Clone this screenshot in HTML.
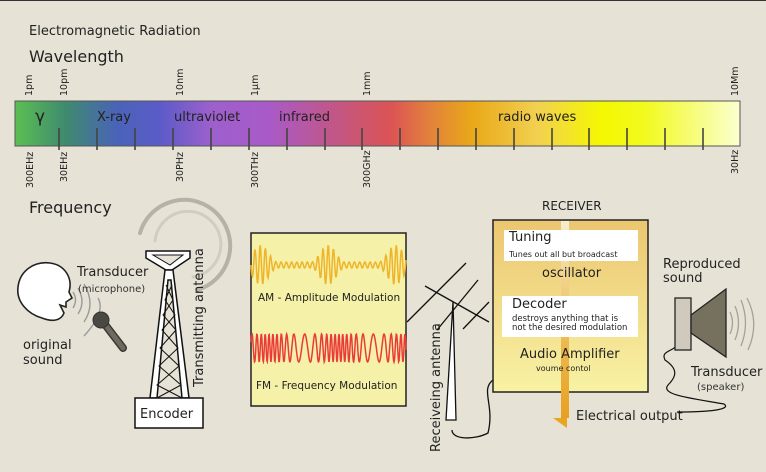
<!DOCTYPE html>
<html><head><meta charset="utf-8"><style>
html,body{margin:0;padding:0;background:#e6e2d6;}
svg{display:block;font-family:"DejaVu Sans","Liberation Sans",sans-serif;}
</style></head><body>
<svg width="766" height="472" viewBox="0 0 766 472" xmlns="http://www.w3.org/2000/svg">
<defs>
<linearGradient id="spec" x1="0" x2="1" y1="0" y2="0">
<stop offset="0" stop-color="#5cbf52"/>
<stop offset="0.07" stop-color="#3f8a6e"/>
<stop offset="0.14" stop-color="#4a63b8"/>
<stop offset="0.2" stop-color="#5b5bc8"/>
<stop offset="0.27" stop-color="#9c60cc"/>
<stop offset="0.35" stop-color="#a95ac8"/>
<stop offset="0.45" stop-color="#c45680"/>
<stop offset="0.52" stop-color="#dc5454"/>
<stop offset="0.57" stop-color="#e2803c"/>
<stop offset="0.63" stop-color="#e9a818"/>
<stop offset="0.72" stop-color="#f2d050"/>
<stop offset="0.81" stop-color="#f4f800"/>
<stop offset="0.87" stop-color="#f2fa20"/>
<stop offset="1" stop-color="#fbffd0"/>
</linearGradient>
<linearGradient id="recv" x1="0" x2="0" y1="0" y2="1">
<stop offset="0" stop-color="#ecc670"/>
<stop offset="1" stop-color="#f8f2a4"/>
</linearGradient>
<linearGradient id="arr" x1="0" x2="0" y1="0" y2="1">
<stop offset="0" stop-color="#f6eed0"/>
<stop offset="0.5" stop-color="#eec060"/>
<stop offset="1" stop-color="#e8a020"/>
</linearGradient>
</defs>
<rect width="766" height="472" fill="#e6e2d6"/>
<rect width="766" height="1" fill="#333"/>
<text x="29" y="35" font-size="13" fill="#222">Electromagnetic Radiation</text>
<text x="29" y="62" font-size="16" fill="#222">Wavelength</text>
<rect x="15" y="101" width="725" height="45" fill="url(#spec)" stroke="#555" stroke-width="1"/>
<g stroke="#444" stroke-width="1.6" id="ticks"></g>
<text x="35" y="122" font-size="17" fill="#222">γ</text>
<text x="97" y="121" font-size="13" fill="#222">X-ray</text>
<text x="174" y="121" font-size="13" fill="#222">ultraviolet</text>
<text x="279" y="121" font-size="13" fill="#222">infrared</text>
<text x="498" y="121" font-size="13" fill="#222">radio waves</text>
<g font-size="9.5" fill="#222">
<text transform="translate(32,96) rotate(-90)">1pm</text>
<text transform="translate(67,96) rotate(-90)">10pm</text>
<text transform="translate(183,96) rotate(-90)">10nm</text>
<text transform="translate(258,96) rotate(-90)">1µm</text>
<text transform="translate(370,96) rotate(-90)">1mm</text>
<text transform="translate(738,96) rotate(-90)">10Mm</text>
<text transform="translate(33,188) rotate(-90)">300EHz</text>
<text transform="translate(67,182) rotate(-90)">30EHz</text>
<text transform="translate(183,182) rotate(-90)">30PHz</text>
<text transform="translate(258,188) rotate(-90)">300THz</text>
<text transform="translate(370,188) rotate(-90)">300GHz</text>
<text transform="translate(738,174) rotate(-90)">30Hz</text>
</g>
<text x="29" y="213" font-size="16" fill="#222">Frequency</text>
<!-- head -->
<path d="M42,318 C28,314 16,302 18,287 C20,270 35,261 50,263 C65,265 73,278 69,292 L72,298 L66,302 L66,307 L60,305 L64,313 C61,321 52,322 42,318 Z" fill="#fff" stroke="#222" stroke-width="1.6"/>
<g fill="none" stroke="#999" stroke-width="1.4">
<path d="M73,308 Q78,300 73,292"/><path d="M78,314 Q86,302 78,288"/><path d="M84,322 Q96,304 84,284"/><path d="M84,336 Q106,312 98,298"/>
</g>
<path d="M100,318 L123,348" stroke="#3a3833" stroke-width="8" stroke-linecap="round"/>
<path d="M100,318 L123,348" stroke="#6e6a60" stroke-width="5" stroke-linecap="round"/>
<circle cx="101" cy="320" r="8" fill="#4a4842" stroke="#333"/>
<text x="77" y="276" font-size="13" fill="#222">Transducer</text>
<text x="78" y="292" font-size="10" fill="#333">(microphone)</text>
<text x="23" y="349" font-size="13" fill="#222">original</text>
<text x="23" y="364" font-size="13" fill="#222">sound</text>
<!-- arcs -->
<path d="M140,233 A46,46 0 1 1 197,290" fill="none" stroke="#b8b2a4" stroke-width="4" stroke-linecap="round"/>
<path d="M155,241 A33,33 0 1 1 193,277" fill="none" stroke="#d2cdc1" stroke-width="3" stroke-linecap="round"/>
<!-- tower -->
<path d="M146,251 L190,251 L190,258 L172,270 L166,270 L146,258 Z" fill="#fff" stroke="#111" stroke-width="1.5"/>
<path d="M153,255 L183,255 L170,265 Z" fill="#e6e2d6" stroke="#111" stroke-width="1"/>
<path d="M165,270 L150,398 L157,398 L168,280 L171,280 L182,398 L189,398 L173,270 Z" fill="#fff" stroke="#111" stroke-width="1.5"/>
<g stroke="#111" stroke-width="1" fill="none">
<path d="M166,285 L173,300 L163,315 L176,330 L160,348 L179,366 L157,385 L182,398"/>
<path d="M172,285 L165,300 L175,315 L162,330 L178,348 L159,366 L181,385 L157,398"/>
</g>
<rect x="135" y="398" width="68" height="30" fill="#fff" stroke="#111" stroke-width="1.5"/>
<text x="140" y="418" font-size="13" fill="#222">Encoder</text>
<text transform="translate(203,387) rotate(-90)" font-size="13" fill="#222">Transmitting antenna</text>
<!-- modulation box -->
<rect x="251" y="233" width="155" height="173" fill="#f6f1a8" stroke="#222" stroke-width="1.5"/>
<path id="am" fill="none" stroke="#efb52a" stroke-width="1.5"/>
<path id="fm" fill="none" stroke="#ea3a3a" stroke-width="1.5"/>
<text x="258" y="301" font-size="10.5" fill="#222">AM - Amplitude Modulation</text>
<text x="256" y="389" font-size="10.5" fill="#222">FM - Frequency Modulation</text>
<!-- receiving antenna -->
<g stroke="#111" stroke-width="1.3" fill="none">
<path d="M407,322 L466,263"/><path d="M425,286 L489,322"/><path d="M437,330 L478,280"/><path d="M463,329 L489,302"/>
<path d="M452,430 C452,440 475,440 488,433 C495,405 480,390 493,380"/>
</g>
<path d="M453,302 L446,420 L456,420 Z" fill="#fff" stroke="#111" stroke-width="1.3"/>
<text transform="translate(440,452) rotate(-90)" font-size="13" fill="#222">Receiveing antenna</text>
<!-- receiver -->
<text x="542" y="210" font-size="12" fill="#222">RECEIVER</text>
<rect x="493" y="220" width="155" height="172" fill="url(#recv)" stroke="#222" stroke-width="1.5"/>
<rect x="561" y="221" width="8" height="197" fill="url(#arr)"/>
<path d="M553,418 L567,428 L567,418 Z" fill="#e8a522"/>
<rect x="504" y="230" width="134" height="31" fill="#fff"/>
<text x="509" y="241" font-size="13" fill="#222">Tuning</text>
<text x="509" y="257" font-size="8" fill="#222">Tunes out all but broadcast</text>
<text x="542" y="277" font-size="13" fill="#222">oscillator</text>
<rect x="502" y="296" width="136" height="41" fill="#fff"/>
<text x="512" y="308" font-size="13" fill="#222">Decoder</text>
<text x="512" y="321" font-size="8.5" fill="#222">destroys anything that is</text>
<text x="512" y="330" font-size="8.5" fill="#222">not the desired modulation</text>
<text x="520" y="358" font-size="13" fill="#222">Audio Amplifier</text>
<text x="536" y="371" font-size="8" fill="#222">voume contol</text>
<text x="576" y="420" font-size="13" fill="#222">Electrical output</text>
<!-- speaker -->
<path d="M677,412 C720,412 730,408 724,404 C690,398 660,395 668,385 C675,378 680,370 665,360 C660,350 675,352 678,343" fill="none" stroke="#111" stroke-width="1.2"/>
<rect x="675" y="298" width="16" height="52" fill="#cfcabd" stroke="#222" stroke-width="1.3"/>
<path d="M691,315 L726,289 L726,357 L691,333 Z" fill="#76705f" stroke="#222" stroke-width="1.3"/>
<g fill="none" stroke="#a8a294" stroke-width="1.3">
<path d="M730,312 Q735,323 730,334"/><path d="M735,306 Q742,323 735,340"/><path d="M741,300 Q750,323 741,346"/><path d="M747,298 Q760,323 748,350"/>
</g>
<text x="663" y="268" font-size="13" fill="#222">Reproduced</text>
<text x="663" y="282" font-size="13" fill="#222">sound</text>
<text x="691" y="376" font-size="13" fill="#222">Transducer</text>
<text x="697" y="390" font-size="10" fill="#333">(speaker)</text>
<script>
var t=document.getElementById('ticks'),xs=[59,97,135,173,211,249,287,325,362,400,438,476,514,552,589,627,665,703];
xs.forEach(function(x){var l=document.createElementNS('http://www.w3.org/2000/svg','line');l.setAttribute('x1',x);l.setAttribute('x2',x);l.setAttribute('y1',128);l.setAttribute('y2',150);t.appendChild(l);});
var d='',i,x,y;
for(i=0;i<=300;i++){x=251+i*155/300;var env=3+17*Math.pow(Math.max(0,Math.cos((i/300)*Math.PI*2*2.3-0.9)),2);y=265+env*Math.sin(i*0.62);d+=(i?'L':'M')+x.toFixed(1)+','+y.toFixed(1);}
document.getElementById('am').setAttribute('d',d);
d='';var ph=0;
for(i=0;i<=400;i++){x=251+i*155/400;var f=0.42+0.22*Math.sin(i/400*Math.PI*2*2.2);ph+=f;y=348-14*Math.sin(ph);d+=(i?'L':'M')+x.toFixed(1)+','+y.toFixed(1);}
document.getElementById('fm').setAttribute('d',d);
</script>
</svg>
</body></html>
